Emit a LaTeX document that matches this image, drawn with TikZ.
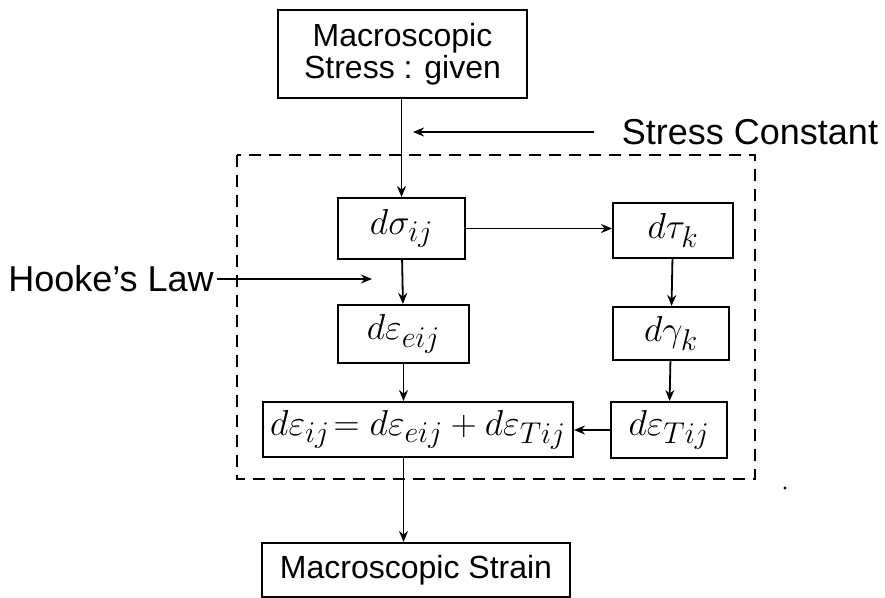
\documentclass[tikz,border=0pt]{standalone}
\usepackage{amsmath}
\usepackage{graphicx}
\usepackage{fontspec}
\setmainfont{Liberation Sans}
\usetikzlibrary{arrows.meta}
\newcommand{\mexpr}[1]{\scalebox{1.45}{$#1$}}

\begin{document}
\begin{tikzpicture}[x=1pt,y=-1pt,
  arr/.style={-{Stealth[length=11pt,width=9pt]},line width=1.8pt},
  blk/.style={draw,line width=2pt,inner sep=0pt,font=\fontsize{32}{36}\selectfont},
  txt/.style={font=\fontsize{36}{42}\selectfont},
  mth/.style={blk,font=\fontsize{30}{34}\selectfont}]
  \useasboundingbox (0,0) rectangle (885,597);
  % Boxes
  \node[blk,minimum width=249pt,minimum height=88pt,align=center] (stress) at (402.5,54)
    {Macroscopic\\[-4pt]Stress : given};
  \node[mth,minimum width=127pt,minimum height=61pt] (dsig) at (401.5,228.5) {\mexpr{d\sigma_{ij}}};
  \node[mth,minimum width=120pt,minimum height=55pt] (dtau) at (673,230.5) {\mexpr{d\tau_k}};
  \node[mth,minimum width=131pt,minimum height=58pt] (depse) at (403.5,334) {\mexpr{d\varepsilon_{eij}}};
  \node[mth,minimum width=116pt,minimum height=53pt] (dgam) at (671,333.5) {\mexpr{d\gamma_k}};
  \node[mth,minimum width=310pt,minimum height=55pt] (sum) at (418,429.5)
    {\mexpr{d\varepsilon_{ij}\!=d\varepsilon_{eij}+d\varepsilon_{Tij}}};
  \node[mth,minimum width=116pt,minimum height=56pt] (depst) at (669,430) {\mexpr{d\varepsilon_{Tij}}};
  \node[blk,minimum width=308pt,minimum height=54pt] (strain) at (416,570) {Macroscopic Strain};
  % Dashed frame
  \draw[line width=1.8pt,dash pattern=on 12pt off 8pt] (237,155) rectangle (755,479);
  % Side labels
  \node[txt] (const) at (750,132) {Stress Constant};
  \coordinate (constend) at (413,132);
  \node[txt] (hooke) at (111,279) {Hooke's Law};
  \coordinate (hookeend) at (372,279);
  % Connectors
  \draw[arr] (stress.south -| dsig.north) -- (dsig.north);
  \draw[arr] ([xshift=-24pt]const.west) -- (constend);
  \draw[arr] (hooke.east) -- (hookeend);
  \draw[arr] (dsig) -- (dtau.west |- dsig);
  \draw[arr] (dsig) -- (depse);
  \draw[arr] (depse.south) -- (sum.north -| depse.south);
  \draw[arr] (dtau) -- (dgam);
  \draw[arr] (dgam) -- (depst);
  \draw[arr] (depst) -- (sum.east |- depst);
  \draw[arr] (sum.south -| depse.south) -- (strain.north -| depse.south);
  % stray dot
  \fill (785,488) circle (1.6pt);
\end{tikzpicture}
\end{document}
